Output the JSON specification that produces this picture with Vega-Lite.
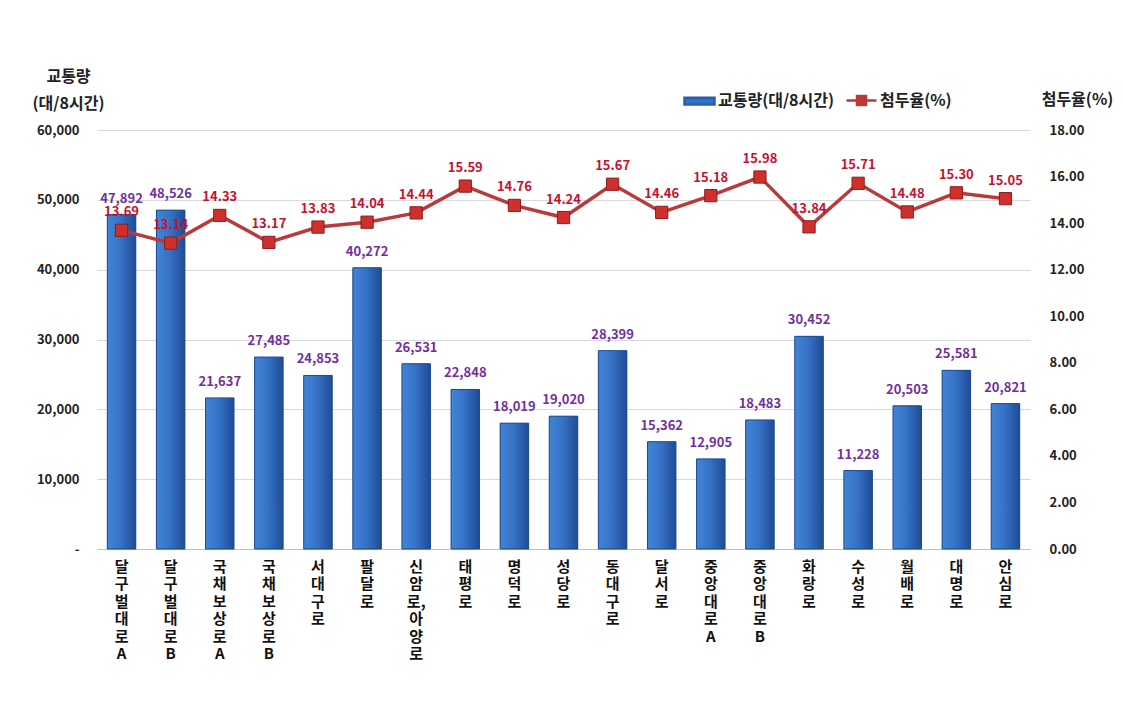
{
  "$schema": "https://vega.github.io/schema/vega-lite/v6.json",
  "autosize": {"type": "none"},
  "padding": {"left": 97, "top": 130, "right": 93, "bottom": 172},
  "width": 933,
  "height": 419,
  "background": "white",
  "config": {
    "font": "Noto Sans CJK KR",
    "view": {"stroke": null},
    "axis": {"labelFont": "Noto Sans CJK KR", "titleFont": "Noto Sans CJK KR"}
  },
  "data": {
    "values": [
      {"road": "달구벌대로A", "traffic": 47892, "rate": 13.69},
      {"road": "달구벌대로B", "traffic": 48526, "rate": 13.14},
      {"road": "국채보상로A", "traffic": 21637, "rate": 14.33},
      {"road": "국채보상로B", "traffic": 27485, "rate": 13.17},
      {"road": "서대구로", "traffic": 24853, "rate": 13.83},
      {"road": "팔달로", "traffic": 40272, "rate": 14.04},
      {"road": "신암로,아양로", "traffic": 26531, "rate": 14.44},
      {"road": "태평로", "traffic": 22848, "rate": 15.59},
      {"road": "명덕로", "traffic": 18019, "rate": 14.76},
      {"road": "성당로", "traffic": 19020, "rate": 14.24},
      {"road": "동대구로", "traffic": 28399, "rate": 15.67},
      {"road": "달서로", "traffic": 15362, "rate": 14.46},
      {"road": "중앙대로A", "traffic": 12905, "rate": 15.18},
      {"road": "중앙대로B", "traffic": 18483, "rate": 15.98},
      {"road": "화랑로", "traffic": 30452, "rate": 13.84},
      {"road": "수성로", "traffic": 11228, "rate": 15.71},
      {"road": "월배로", "traffic": 20503, "rate": 14.48},
      {"road": "대명로", "traffic": 25581, "rate": 15.30},
      {"road": "안심로", "traffic": 20821, "rate": 15.05}
    ]
  },
  "encoding": {
    "x": {
      "field": "road", "type": "nominal", "sort": null,
      "scale": {"paddingInner": 0.42, "paddingOuter": 0.21},
      "axis": {
        "title": null, "labelAngle": 0,
        "labelExpr": "datum.label == '신암로,아양로' ? ['신','암','로,','아','양','로'] : split(datum.label, '')",
        "labelFontSize": 15, "labelFontWeight": "bold", "labelColor": "#111111",
        "labelLineHeight": 17.5, "labelPadding": 10, "labelBaseline": "top",
        "ticks": false, "domainColor": "#bfbfbf", "domainWidth": 1
      }
    }
  },
  "layer": [
    {
      "mark": {"type": "bar"},
      "encoding": {
        "y": {
          "field": "traffic", "type": "quantitative",
          "scale": {"domain": [0, 60000], "nice": false},
          "axis": {
            "values": [0, 10000, 20000, 30000, 40000, 50000, 60000],
            "labelExpr": "datum.value == 0 ? '-' : format(datum.value, ',')",
            "labelFontSize": 13, "labelFontWeight": "bold", "labelColor": "#222222",
            "labelPadding": 18, "ticks": false, "domain": false,
            "gridColor": "#d9d9d9", "gridWidth": 1,
            "title": ["교통량", "(대/8시간)"], "titleAngle": 0, "titleAlign": "center",
            "titleBaseline": "bottom", "titleX": -29, "titleY": -46,
            "titleFontSize": 16, "titleFontWeight": "bold", "titleColor": "#222222",
            "titleLineHeight": 27
          }
        },
        "color": {
          "datum": "교통량(대/8시간)",
          "scale": {"domain": ["교통량(대/8시간)", "첨두율(%)"], "range": ["#3470c4", "#c0392b"]},
          "legend": {
            "title": null, "orient": "none", "direction": "horizontal",
            "legendX": 586, "legendY": -46,
            "labelFontSize": 16, "labelFontWeight": "bold", "labelColor": "#222222",
            "symbolSize": 900, "columnPadding": 6, "labelOffset": 2,
            "encode": {
              "symbols": {
                "update": {
                  "shape": {"signal": "datum.value === '첨두율(%)' ? 'M-1,0H1M-0.3,-0.3H0.3V0.3H-0.3Z' : 'M-1,-0.22H1V0.22H-1Z'"},
                  "stroke": {"signal": "datum.value === '첨두율(%)' ? '#b83a3a' : '#2a5fae'"},
                  "fill": {"signal": "datum.value === '첨두율(%)' ? '#c8302c' : '#3470c4'"},
                  "strokeWidth": {"value": 2.5},
                  "opacity": {"value": 1}
                }
              }
            }
          }
        }
      }
    },
    {
      "mark": {
        "type": "bar", "strokeWidth": 1, "stroke": "#1e4a8e",
        "fill": {"gradient": "linear", "x1": 0, "y1": 0, "x2": 1, "y2": 0,
          "stops": [{"offset": 0, "color": "#4384d6"}, {"offset": 0.45, "color": "#3673c8"}, {"offset": 1, "color": "#1f4c96"}]}
      },
      "encoding": {
        "y": {"field": "traffic", "type": "quantitative", "scale": {"domain": [0, 60000], "nice": false}, "axis": null}
      }
    },
    {
      "mark": {"type": "text", "dy": -9, "fontSize": 13, "fontWeight": "bold", "color": "#7030a0", "baseline": "bottom"},
      "encoding": {
        "y": {"field": "traffic", "type": "quantitative", "scale": {"domain": [0, 60000], "nice": false}, "axis": null},
        "text": {"field": "traffic", "type": "quantitative", "format": ","}
      }
    },
    {
      "mark": {"type": "line", "color": "#b83a3a", "strokeWidth": 3.5},
      "encoding": {
        "y": {
          "field": "rate", "type": "quantitative",
          "scale": {"domain": [0, 18], "nice": false},
          "axis": {
            "orient": "right", "values": [0, 2, 4, 6, 8, 10, 12, 14, 16, 18], "format": ".2f",
            "labelFontSize": 13, "labelFontWeight": "bold", "labelColor": "#222222",
            "labelPadding": 19, "ticks": false, "domain": false, "grid": false,
            "title": "첨두율(%)", "titleAngle": 0, "titleAlign": "center", "titleBaseline": "middle",
            "titleX": 47, "titleY": -31, "titleFontSize": 16, "titleFontWeight": "bold", "titleColor": "#222222"
          }
        }
      }
    },
    {
      "mark": {"type": "square", "size": 150, "filled": true, "color": "#d0302c", "stroke": "#8e1c1c", "strokeWidth": 1, "opacity": 1},
      "encoding": {
        "y": {"field": "rate", "type": "quantitative", "scale": {"domain": [0, 18], "nice": false}, "axis": null}
      }
    },
    {
      "mark": {"type": "text", "dy": -11, "fontSize": 13, "fontWeight": "bold", "color": "#c8102e", "baseline": "bottom"},
      "encoding": {
        "y": {"field": "rate", "type": "quantitative", "scale": {"domain": [0, 18], "nice": false}, "axis": null},
        "text": {"field": "rate", "type": "quantitative", "format": ".2f"}
      }
    }
  ],
  "resolve": {"scale": {"y": "independent"}}
}
